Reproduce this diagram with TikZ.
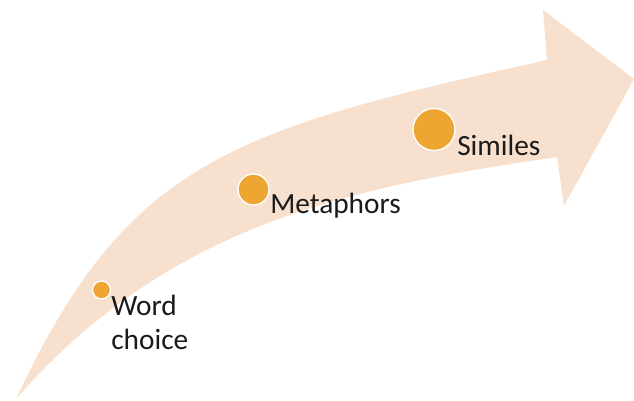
\documentclass[tikz,border=0pt]{standalone}
\usepackage{fontspec}
\setmainfont{Carlito}
\definecolor{peach}{HTML}{F8E0CE}
\definecolor{dot}{HTML}{EFA532}
\definecolor{txt}{HTML}{1A1A1A}
\begin{document}
\begin{tikzpicture}[x=0.75pt,y=-0.75pt,
  dotstyle/.style={circle,fill=dot,draw=white,line width=1pt,inner sep=0pt},
  lbl/.style={inner sep=0pt,text=txt,font=\fontsize{22}{25.5}\selectfont,align=left}]
\useasboundingbox (0,0) rectangle (634,400);
% arrow
\fill[peach] (16,399) .. controls (127,162) and (229.5,130) .. (547,60)
  -- (543,10) -- (634,79) -- (564,206) -- (557,157)
  .. controls (351.5,187) and (169,223.5) .. (16,399) -- cycle;
% dots
\node[dotstyle,minimum size=18pt*0.75] (d1) at (101.5,290) {};
\node[dotstyle,minimum size=31pt*0.75] (d2) at (253.5,189.5) {};
\node[dotstyle,minimum size=42pt*0.75] (d3) at (434,129.5) {};
% labels
\node[lbl,anchor=base west] (l1) at (111,349) {Word\\choice};
\node[lbl,anchor=base west] (l2) at (270,213) {Metaphors};
\node[lbl,anchor=base west] (l3) at (457,155) {Similes};
\end{tikzpicture}
\end{document}
